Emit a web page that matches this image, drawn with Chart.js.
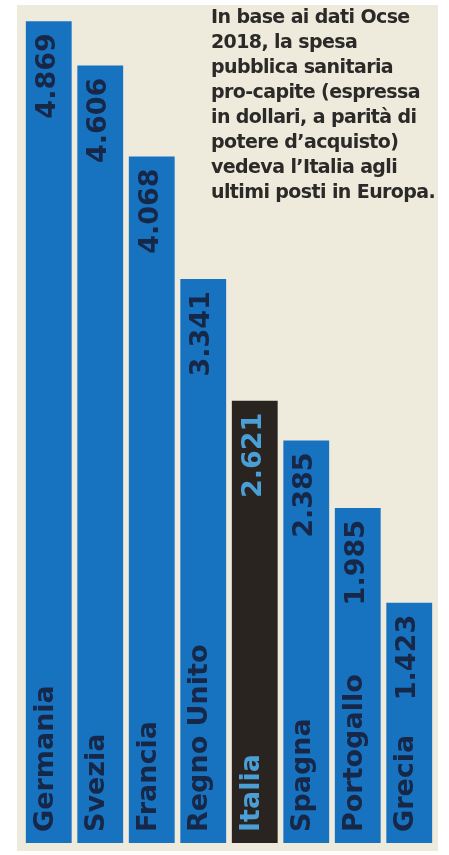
<!DOCTYPE html>
<html>
<head>
<meta charset="utf-8">
<script src="https://cdn.jsdelivr.net/npm/chart.js@4"></script>
<style>
  html, body { margin: 0; padding: 0; background: #ffffff; }
  #wrap { position: relative; width: 449px; height: 855px; }
  #paper { position: absolute; left: 17px; top: 5px; width: 421px; height: 846px; background: #eeebdd; }
  #chart { position: absolute; left: 0; top: 0; }
  #note {
    position: absolute; left: 211px; top: 4px; white-space: nowrap;
    font-family: "DejaVu Sans", sans-serif; font-weight: bold;
    font-size: 19px; line-height: 25px; color: #2b2a28; letter-spacing: -0.6px;
  }
</style>
</head>
<body>
<div id="wrap">
  <div id="paper"></div>
  <canvas id="chart" width="449" height="855"></canvas>
  <div id="note">In base ai dati Ocse<br>2018, la spesa<br>pubblica sanitaria<br>pro-capite (espressa<br>in dollari, a parità di<br>potere d’acquisto)<br>vedeva l’Italia agli<br>ultimi posti in Europa.</div>
</div>
<script>
const countries = ['Germania', 'Svezia', 'Francia', 'Regno Unito', 'Italia', 'Spagna', 'Portogallo', 'Grecia'];
const spending  = [4869, 4606, 4068, 3341, 2621, 2385, 1985, 1423];
const valueText = ['4.869', '4.606', '4.068', '3.341', '2.621', '2.385', '1.985', '1.423'];

const BLUE = '#1772c0';
const DARK = '#2a2421';
const barColors  = countries.map(c => c === 'Italia' ? DARK : BLUE);
const textColors = countries.map(c => c === 'Italia' ? '#4a9fd6' : '#172747');

// names at the foot of each bar, values at the top, both rotated
const barLabels = {
    id: 'barLabels',
    afterDatasetsDraw(chart) {
        const ctx = chart.ctx;
        chart.getDatasetMeta(0).data.forEach((bar, i) => {
            ctx.save();
            ctx.font = 'bold 27px "DejaVu Sans", sans-serif';
            ctx.fillStyle = textColors[i];
            ctx.textBaseline = 'alphabetic';

            ctx.save();
            ctx.translate(bar.x + 6, bar.y + 12);
            ctx.rotate(-Math.PI / 2);
            ctx.textAlign = 'right';
            ctx.fillText(valueText[i], 0, 0);
            ctx.restore();

            ctx.translate(bar.x + 4, bar.base - 11);
            ctx.rotate(-Math.PI / 2);
            ctx.textAlign = 'left';
            ctx.fillText(countries[i], 0, 0);
            ctx.restore();
        });
    }
};

new Chart(document.getElementById('chart').getContext('2d'), {
    type: 'bar',
    data: {
        labels: countries,
        datasets: [{
            data: spending,
            backgroundColor: barColors,
            borderWidth: 0,
            barPercentage: 0.89,
            categoryPercentage: 1
        }]
    },
    options: {
        responsive: false,
        animation: false,
        layout: { padding: { left: 23, right: 14, top: 16, bottom: 12 } },
        plugins: { legend: { display: false }, tooltip: { enabled: false } },
        scales: {
            x: { display: false },
            y: { display: false, min: 0, max: 4900 }
        }
    },
    plugins: [barLabels]
});
</script>
</body>
</html>
